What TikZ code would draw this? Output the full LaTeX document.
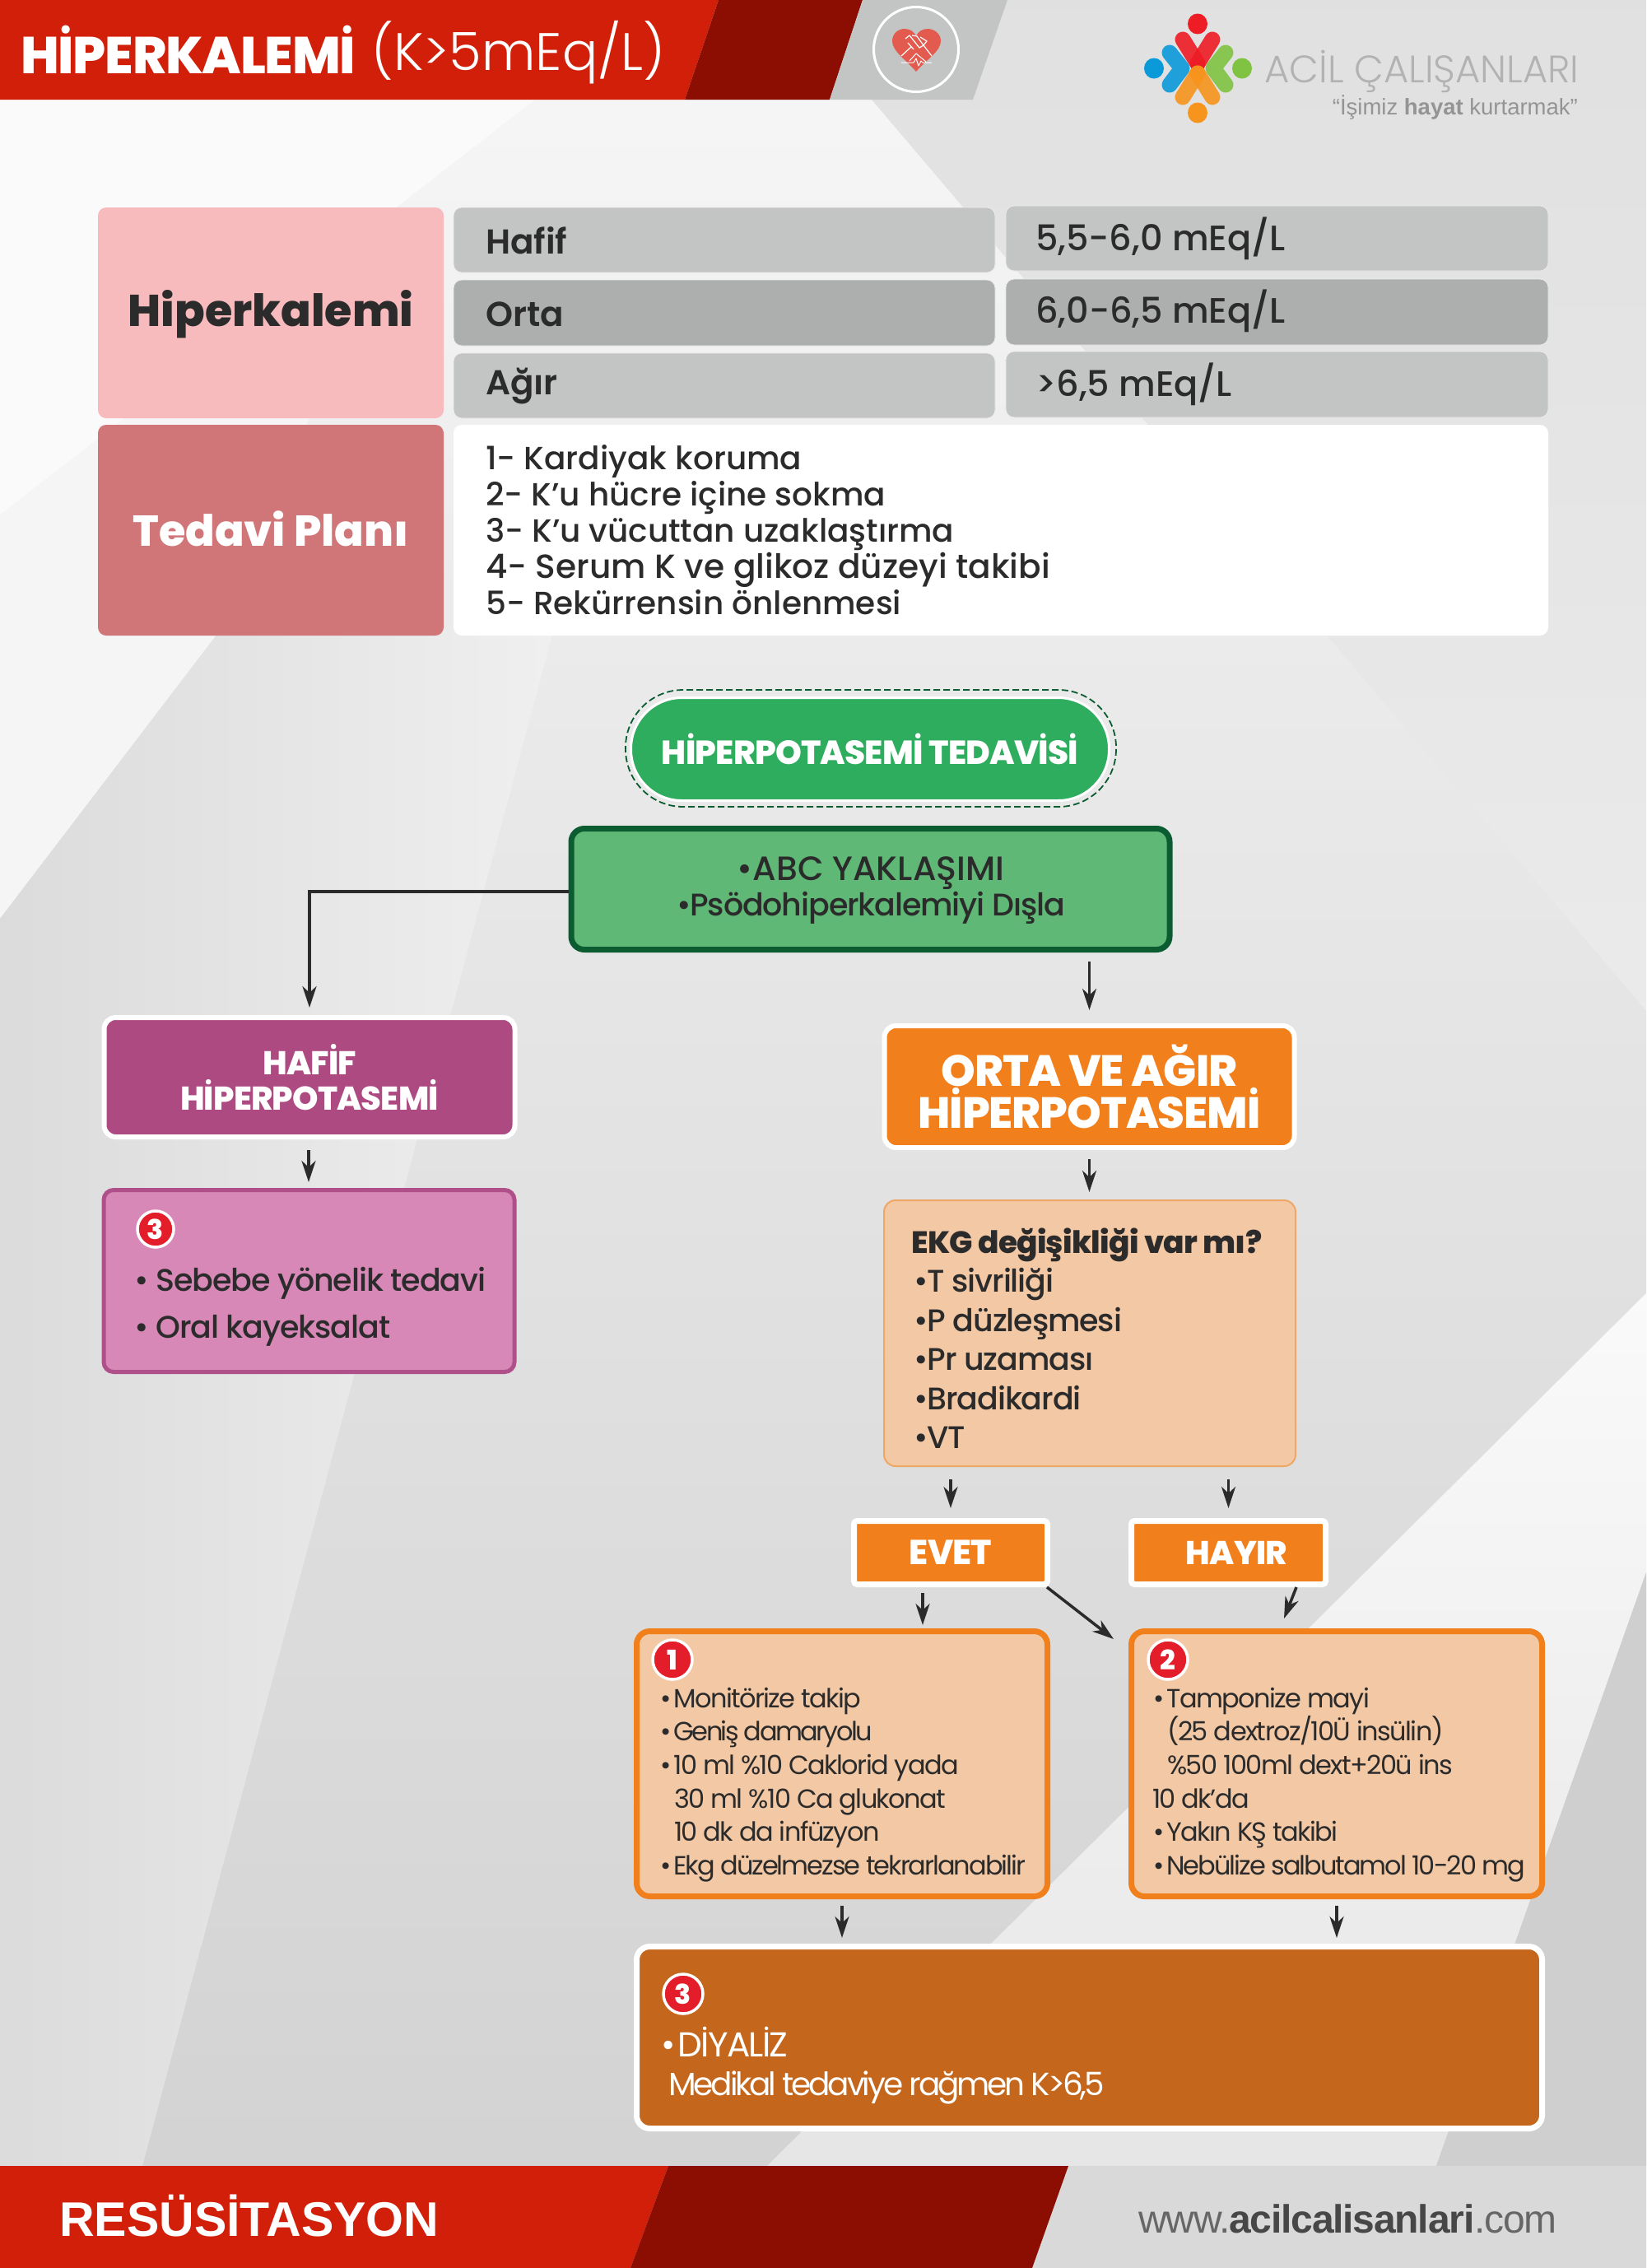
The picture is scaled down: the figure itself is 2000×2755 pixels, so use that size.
\documentclass[tikz,border=0pt]{standalone}
\usepackage{fontspec}
\usetikzlibrary{arrows.meta,calc}
\setmainfont{Poppins}
\newfontfamily\fmed{Poppins Medium}
\newfontfamily\fmedt{Poppins Medium}[LetterSpace=-3]
\newfontfamily\fsemi{Poppins SemiBold}
\newfontfamily\fxb{Poppins ExtraBold}
\newfontfamily\fxbt{Poppins ExtraBold}[LetterSpace=-2]
\newfontfamily\flight{Poppins Light}
\newfontfamily\fbk{Poppins}[LetterSpace=-5]
\newfontfamily\fbkm{Poppins}[LetterSpace=-6.3]
\newfontfamily\fbkt{Poppins}[LetterSpace=-8]
\newfontfamily\fbkw{Poppins}[LetterSpace=-4]
\newfontfamily\farial{Liberation Sans}
\newfontfamily\farialt{Liberation Sans}[LetterSpace=-2.5]
\newcommand\fz[2]{\fontsize{#1pt}{#2pt}\selectfont}
\newcommand\bl{•\hspace{3pt}}
\definecolor{ink}{HTML}{2B2B2B}
\definecolor{hred}{HTML}{D21F0A}
\definecolor{dred}{HTML}{8C0E03}
\definecolor{hgrey}{HTML}{C3C5C4}
\definecolor{midgrey}{HTML}{ADAFAE}
\definecolor{rose}{HTML}{F7BABD}
\definecolor{roseD}{HTML}{D07679}
\definecolor{green1}{HTML}{2FAD5F}
\definecolor{green2}{HTML}{5FB876}
\definecolor{greenD}{HTML}{0C5C32}
\definecolor{plum}{HTML}{AD4A82}
\definecolor{pinkF}{HTML}{D788B6}
\definecolor{pinkD}{HTML}{B0508A}
\definecolor{orng}{HTML}{F07F1C}
\definecolor{peach}{HTML}{F3C8A5}
\definecolor{peachD}{HTML}{EDA766}
\definecolor{brown}{HTML}{C4661B}
\definecolor{badgeR}{HTML}{E31E2A}
\definecolor{heartR}{HTML}{E35B4E}
\definecolor{lgR}{HTML}{EE1C25}
\definecolor{lgO}{HTML}{F7941D}
\definecolor{lgB}{HTML}{0A9ADA}
\definecolor{lgG}{HTML}{80C342}
\tikzset{
  cell/.style={rectangle,rounded corners=10pt,inner sep=0pt,align=center},
  greycell/.style={cell,fill=hgrey,draw=black!8,line width=.8pt},
  whitebox/.style={rectangle,rounded corners=14pt,draw=white,line width=6pt,inner sep=0pt,align=center,text=white},
  peachbox/.style={rectangle,rounded corners=16pt,draw=orng,fill=peach,line width=7pt,inner sep=0pt},
  txt/.style={inner sep=0pt,anchor=west,align=left,text=ink},
  ctxt/.style={inner sep=0pt,align=center},
  arr/.style={draw=ink,line width=3.5pt,-{Stealth[length=26pt,width=17pt,inset=8pt]}},
  badge/.style={circle,fill=badgeR,draw=white,line width=3.5pt,inner sep=0pt,minimum size=44pt,text=white,font=\fxb\fz{33}{33}},
}
\begin{document}
\begin{tikzpicture}[x=1pt,y=-1pt]
\useasboundingbox (0,0) rectangle (2000,2755);
% background
\shade[top color=black!3,bottom color=black!8] (0,0) rectangle (2000,800);
\shade[top color=black!8,bottom color=black!18] (0,800) rectangle (2000,2755);
\shade[top color=black!12,bottom color=black!8] (1059,0) -- (2000,0) -- (2000,1228) -- (1059,121) -- cycle;
\fill[black!4] (0,121) -- (650,121) -- (485,250) -- (264,770) -- (0,1116) -- cycle;
\fill[black!2] (0,121) -- (650,121) -- (0,625) -- cycle;
\shade[left color=black!14,right color=black!6] (0,1116) -- (264,770) -- (264,700) -- (690,700) -- (173,2631) -- (0,2631) -- cycle;
\shade[top color=black!2,bottom color=black!10] (2000,1571) -- (932,2631) -- (1745,2631) -- (2000,1910) -- cycle;
\fill[black!19] (2000,1910) -- (1745,2631) -- (2000,2631) -- cycle;
% header
\fill[hred] (0,0) -- (873,0) -- (832,121) -- (0,121) -- cycle;
\fill[dred] (873,0) -- (1048,0) -- (1008,121) -- (832,121) -- cycle;
\fill[hgrey] (1048,0) -- (1224,0) -- (1182,121) -- (1008,121) -- cycle;
\node[inner sep=0pt,anchor=west,text=white,font=\fxbt\fz{63}{63}] (title) at (25,60) {HİPERKALEMİ};
\node[inner sep=0pt,anchor=west,text=white,font=\flight\fz{64}{64}] (titleb) at (451,64) {(K>5mEq/L)};
% heart icon
\node[circle,draw=white,line width=3pt,minimum size=103pt,inner sep=0pt] (iconring) at (1113,60) {};
\fill[heartR] (1113,87) .. controls (1100,72) and (1084,62) .. (1084,50) .. controls (1084,40) and (1092,35) .. (1099,35) .. controls (1106,35) and (1111,39) .. (1113,44) .. controls (1115,39) and (1120,35) .. (1127,35) .. controls (1134,35) and (1143,40) .. (1143,50) .. controls (1143,62) and (1126,72) .. (1113,87) -- cycle;
\draw[white,line width=1.2pt,line join=round] (1095,68) -- (1107,57) (1132,68) -- (1122,55)
 (1100,47) -- (1105,43) -- (1117,58) -- (1122,55) -- (1114,44) -- (1108,43)
 (1103,52) -- (1110,60) (1118,45) -- (1126,50) -- (1122,55);
\draw[white,line width=1pt,line join=round] (1095,76) -- (1110,76) -- (1113,71) -- (1116,80) -- (1119,74) -- (1121,76) -- (1132,76)
 (1105,74) -- (1113,65) -- (1125,75);
% logo
\fill[lgR] (1455,29) ellipse (12 and 12.5);
\fill[lgO] (1455,137) ellipse (12 and 12.5);
\fill[lgB] (1402,83) ellipse (12 and 12.5);
\fill[lgG] (1509,83) ellipse (12 and 12.5);
\begin{scope}[line width=19pt,line cap=round,line join=round]
\draw[lgR,opacity=.9] (1437,48) -- (1455,77);
\draw[lgR,opacity=.9] (1473,48) -- (1455,77);
\draw[lgB,opacity=.9] (1421,64) -- (1436,83) -- (1421,103);
\draw[lgG,opacity=.9] (1489,64) -- (1474,83) -- (1489,103);
\draw[lgO,opacity=.9] (1437,118) -- (1455,89);
\draw[lgO,opacity=.9] (1473,118) -- (1455,89);
\end{scope}
\node[inner sep=0pt,anchor=west,text=black!30] (logotxt) at (1536,87) {\flight\fz{46.5}{46.5}ACİL ÇALIŞANLARI};
\node[inner sep=0pt,anchor=east,text=black!42] (logosub) at (1917,130) {\farial\fz{27.5}{27.5}“İşimiz \textbf{hayat} kurtarmak”};
% table
\node[cell,fill=rose,minimum width=420pt,minimum height=256pt] (hip) at (329,380) {};
\node[ctxt,text=ink,font=\fxb\fz{54}{54}] (thip) at (329,382) {Hiperkalemi};
\node[greycell,minimum width=658pt,minimum height=79pt] (hafif) at (880,291.5) {};
\node[greycell,fill=midgrey,minimum width=658pt,minimum height=80pt] (orta) at (880,380) {};
\node[greycell,minimum width=658pt,minimum height=79pt] (agir) at (880,468.5) {};
\node[greycell,minimum width=659pt,minimum height=79pt] (r1) at (1551.5,289.5) {};
\node[greycell,fill=midgrey,minimum width=659pt,minimum height=80pt] (r2) at (1551.5,379) {};
\node[greycell,minimum width=659pt,minimum height=80pt] (r3) at (1551.5,467) {};
\node[txt,font=\fsemi\fz{42}{42}] (thafif) at (590,292) {Hafif};
\node[txt,font=\fsemi\fz{42}{42}] (torta) at (590,382) {Orta};
\node[txt,font=\fsemi\fz{42}{42}] (tagir) at (590,469) {Ağır};
\node[txt,font=\fmed\fz{43}{43}] (tr1) at (1258,290) {5,5-6,0 mEq/L};
\node[txt,font=\fmed\fz{43}{43}] (tr2) at (1258,378) {6,0-6,5 mEq/L};
\node[txt,font=\fmed\fz{43}{43}] (tr3) at (1258,467) {>6,5 mEq/L};
\node[cell,fill=roseD,minimum width=420pt,minimum height=256pt] (ted) at (329,644) {};
\node[ctxt,text=white,font=\fxb\fz{52.5}{52.5}] (tted) at (329,642) {Tedavi Planı};
\node[cell,fill=white,minimum width=1330pt,minimum height=256pt] (plan) at (1216,644) {};
\node[txt,font=\fmed\fz{39}{44}] (tplan) at (590,644) {1- Kardiyak koruma\\2- K’u hücre içine sokma\\3- K’u vücuttan uzaklaştırma\\{\fz{40.7}{44}4- Serum K ve glikoz düzeyi takibi}\\5- Rekürrensin önlenmesi};
% flow
\node[rectangle,rounded corners=70pt,draw=greenD,dash pattern=on 8pt off 4pt,line width=1.8pt,minimum width=596pt,minimum height=142pt] (pillout) at (1058,909) {};
\node[rectangle,rounded corners=62pt,fill=green1,draw=white,line width=3pt,minimum width=581pt,minimum height=125pt,text=white,font=\fxbt\fz{40.5}{40.5}] (pill) at (1057,910) {HİPERPOTASEMİ TEDAVİSİ};
\node[rectangle,rounded corners=16pt,fill=green2,draw=greenD,line width=7pt,minimum width=727pt,minimum height=147pt] (abc) at (1057.5,1080) {};
\node[ctxt,text=ink,font=\fmed\fz{41}{41}] (tabc1) at (1058,1061) {•ABC YAKLAŞIMI};
\node[ctxt,text=ink,font=\fmedt\fz{38}{38}] (tabc2) at (1058,1103) {•Psödohiperkalemiyi Dışla};
\node[whitebox,fill=plum,minimum width=499pt,minimum height=145pt,font=\fxbt\fz{40}{43}] (hafbox) at (376,1308.5) {HAFİF\\HİPERPOTASEMİ};
\node[whitebox,fill=orng,minimum width=498pt,minimum height=148pt,font=\fxbt\fz{53}{51}] (ortabox) at (1323.5,1320) {ORTA VE AĞIR\\HİPERPOTASEMİ};
\node[rectangle,rounded corners=12pt,fill=pinkF,draw=pinkD,line width=5pt,minimum width=499pt,minimum height=221pt] (pink) at (375.5,1556) {};
\node[badge] (bdgP) at (189,1493) {3};
\node[txt,font=\fmedt\fz{38}{57}] (tpink) at (163,1587) {• Sebebe yönelik tedavi\\• Oral kayeksalat};
\node[rectangle,rounded corners=14pt,fill=peach,draw=peachD,line width=2pt,minimum width=500pt,minimum height=323pt] (ekg) at (1324,1619.5) {};
\node[txt,font=\fxbt\fz{37.5}{37.5}] (tekgh) at (1107,1512) {EKG değişikliği var mı?};
\node[txt,font=\fmedt\fz{38}{47.5}] (tekg) at (1110,1650) {•T sivriliği\\•P düzleşmesi\\•Pr uzaması\\•Bradikardi\\•VT};
\node[whitebox,rounded corners=4pt,fill=orng,line width=7pt,minimum width=235pt,minimum height=77pt,font=\fxbt\fz{42}{42}] (evet) at (1155,1886) {EVET};
\node[whitebox,rounded corners=4pt,fill=orng,line width=7pt,minimum width=236pt,minimum height=77pt,font=\fxbt\fz{40}{40}] (hayir) at (1492.5,1886) {\hspace*{20pt}HAYIR};
\node[peachbox,minimum width=499pt,minimum height=322pt] (b1) at (1023,2142.5) {};
\node[peachbox,minimum width=499pt,minimum height=322pt] (b2) at (1624,2142.5) {};
\node[badge,minimum size=48pt] (bdg1) at (817,2016) {1};
\node[badge,minimum size=48pt] (bdg2) at (1419,2016) {2};
\node[txt,font=\fbk\fz{32}{40.6}] (tb1) at (802,2168) {\bl Monitörize takip\\{\fbkt\bl Geniş damaryolu}\\\bl 10 ml \%10 Caklorid yada\\\hspace*{17pt}30 ml \%10 Ca glukonat\\\hspace*{17pt}10 dk da infüzyon\\{\fbkm\bl Ekg düzelmezse tekrarlanabilir}};
\node[txt,font=\fbk\fz{32}{40.6}] (tb2) at (1400,2168) {\hspace*{1pt}\bl Tamponize mayi\\\hspace*{18pt}(25 dextroz/10Ü insülin)\\\hspace*{18pt}\%50 100ml dext+20ü ins\\10 dk’da\\\hspace*{1pt}\bl Yakın KŞ takibi\\\hspace*{1pt}{\fbkm\bl Nebülize salbutamol 10-20 mg}};
\node[whitebox,rounded corners=16pt,fill=brown,line width=7pt,minimum width=1100pt,minimum height=221pt] (b3) at (1323.5,2475) {};
\node[badge,minimum size=48pt] (bdg3) at (830,2422) {3};
\node[txt,text=white,font=\fbkw\fz{42}{42}] (tb3a) at (803,2480) {\bl DİYALİZ};
\node[txt,text=white,font=\fbkt\fz{39}{39}] (tb3b) at (812,2536) {Medikal tedaviye rağmen K>6,5};
% connectors
\draw[arr] ([yshift=-3pt]abc.west) -| ([yshift=9pt]hafbox.north);
\draw[arr,shorten <=11pt,shorten >=16pt] (abc.south -| ortabox.north) -- (ortabox.north);
\draw[arr,shorten <=13pt,shorten >=7pt] ([xshift=-1pt]hafbox.south) -- ([xshift=-1pt]hafbox.south |- pink.north);
\draw[arr,shorten <=11pt,shorten >=9pt] (ortabox.south) -- (ortabox.south |- ekg.north);
\draw[arr,shorten <=15pt,shorten >=12pt] (ekg.south -| evet.north) -- (evet.north);
\draw[arr,shorten <=15pt,shorten >=12pt] (ekg.south -| hayir.north) -- (hayir.north);
\draw[arr,shorten <=7pt,shorten >=4pt] ([xshift=-34pt]evet.south) -- ([xshift=-34pt]evet.south |- b1.north);
\draw[arr] ([xshift=-4pt]evet.south east) -- ([xshift=-18pt,yshift=-13pt]b2.north west);
\draw[arr] ([xshift=82.5pt]hayir.south) -- ([xshift=-64pt,yshift=12pt]b2.north);
\draw[arr,shorten <=8pt,shorten >=7pt] (b1.south) -- (b1.south |- b3.north);
\draw[arr,shorten <=8pt,shorten >=7pt] (b2.south) -- (b2.south |- b3.north);
% footer
\fill[black!15] (0,2631) rectangle (2000,2755);
\fill[hred] (0,2631) -- (812,2631) -- (766,2755) -- (0,2755) -- cycle;
\fill[dred] (812,2631) -- (1298,2631) -- (1254,2755) -- (766,2755) -- cycle;
\node[inner sep=0pt,anchor=west,text=white] (res) at (72,2691) {\farial\bfseries\fz{59}{59}RESÜSİTASYON};
\node[inner sep=0pt,anchor=east,text=black!60] (url) at (1892,2695) {\farialt\fz{48}{48}www.\textbf{\textcolor{black!72}{acilcalisanlari}}.com};
\end{tikzpicture}
\end{document}
